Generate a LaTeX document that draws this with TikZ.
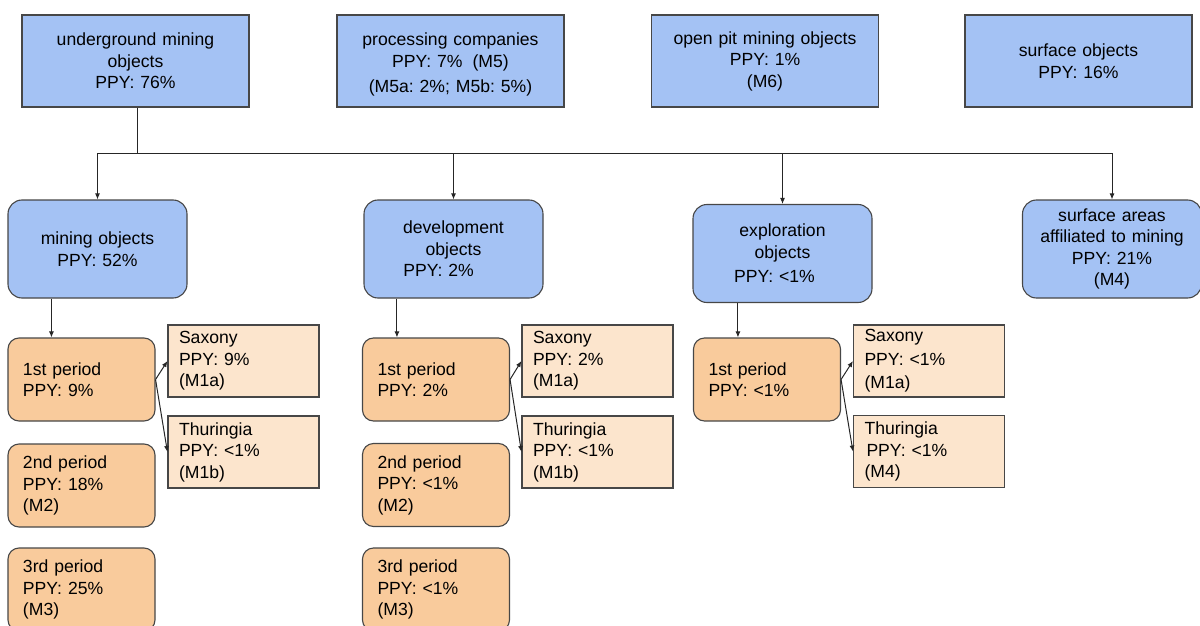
\documentclass[tikz,border=0pt]{standalone}
\usepackage{fontspec}
\setmainfont{Liberation Sans}
\usetikzlibrary{arrows.meta}
\definecolor{boxblue}{HTML}{A4C2F4}
\definecolor{boxorange}{HTML}{F9CB9C}
\definecolor{boxpeach}{HTML}{FCE5CD}
\definecolor{edgegray}{HTML}{474747}

\begin{document}
\begin{tikzpicture}[x=1pt,y=-1pt,
  every node/.style={font=\fontsize{17.6}{21.5}\selectfont\frenchspacing, inner ysep=0pt},
  base/.style={draw=edgegray, line width=1.1pt},
  topbox/.style={base, rectangle, fill=boxblue, minimum width=227pt, minimum height=92pt,
    inner xsep=5pt, text width=217pt, align=center},
  midbox/.style={base, rectangle, rounded corners=14pt, fill=boxblue, minimum width=179pt,
    minimum height=98pt, inner xsep=5pt, text width=169pt, align=center},
  period/.style={base, rectangle, rounded corners=11pt, fill=boxorange, minimum width=147pt,
    minimum height=83pt, inner xsep=15pt, text width=117pt, align=left},
  regionbox/.style={base, rectangle, fill=boxpeach, minimum width=151pt, minimum height=72pt,
    inner xsep=11pt, text width=129pt, align=left},
  link/.style={line width=1pt, draw=black!85},
  arr/.style={link, -{Latex[length=6pt,width=5pt]}}
]
\useasboundingbox (0,0) rectangle (1200,626);
\clip (0,0) rectangle (1200,626);

% top row
\node[topbox] (ug) at (135.5,61) {underground mining\\objects\\PPY: 76\%};
\node[topbox] (pc) at (450.5,61) {\rule{0pt}{20pt}processing companies\\PPY: 7\%\hspace{10pt}(M5)\\[4pt](M5a: 2\%; M5b: 5\%)};
\node[topbox] (op) at (765,61) {open pit mining objects\\PPY: 1\%\\(M6)};
\node[topbox] (so) at (1078.5,61) {surface objects\\PPY: 16\%};

% second row
\node[midbox] (mo) at (97.5,249) {mining objects\\PPY: 52\%};
\node[midbox] (dv) at (453.5,249) {development\\objects\\PPY: 2\%\rule{30pt}{0pt}};
\node[midbox] (ex) at (782.5,253.5) {exploration\\objects\\[3pt]PPY: <1\%\rule{16pt}{0pt}};
\node[midbox] (sa) at (1112,249) {surface areas\\affiliated to mining\\PPY: 21\%\\(M4)};

% mining objects branch
\node[period] (p1m) at (81.5,379.5) {1st period\\PPY: 9\%};
\node[period] (p2m) at (81.5,485.5) {2nd period\\PPY: 18\%\\(M2)};
\node[period] (p3m) at (81.5,589.5) {3rd period\\PPY: 25\%\\(M3)};
\node[regionbox] (sxm) at (243.5,361) {Saxony\\PPY: 9\%\\(M1a)};
\node[regionbox] (thm) at (243.5,452) {Thuringia\\PPY: <1\%\\(M1b)};

% development objects branch
\node[period] (p1d) at (436,379.5) {1st period\\PPY: 2\%};
\node[period] (p2d) at (436,485) {2nd period\\PPY: <1\%\\(M2)};
\node[period] (p3d) at (436,589.5) {3rd period\\PPY: <1\%\\(M3)};
\node[regionbox] (sxd) at (597.5,361) {Saxony\\PPY: 2\%\\(M1a)};
\node[regionbox] (thd) at (597.5,452) {Thuringia\\PPY: <1\%\\(M1b)};

% exploration objects branch
\node[period] (p1e) at (767,379.5) {1st period\\PPY: <1\%};
\node[regionbox] (sxe) at (929,361) {Saxony\\[2pt]PPY: <1\%\\[2pt](M1a)};
\node[regionbox] (the) at (929,451.5) {Thuringia\\\hspace*{2pt}PPY: <1\%\\(M4)};

% distribution bus below the underground mining box
\coordinate (bus) at (137,153);
\draw[link] (ug.south -| bus) -- (bus);
\draw[link] (mo.north |- bus) -- (sa.north |- bus);
\draw[arr] (mo.north |- bus) -- (mo.north);
\draw[arr] (dv.north |- bus) -- (dv.north);
\draw[arr] (ex.north |- bus) -- (ex.north);
\draw[arr] (sa.north |- bus) -- (sa.north);

% second row to first periods
\coordinate (km) at ([xshift=44pt]p1m.north west);
\coordinate (kd) at ([xshift=35pt]p1d.north west);
\coordinate (ke) at ([xshift=45pt]p1e.north west);
\draw[arr] (km |- mo.south) -- (km);
\draw[arr] (kd |- dv.south) -- (kd);
\draw[arr] (ke |- ex.south) -- (ke);

% first periods to regions
\draw[arr] (p1m.east) -- (sxm.west);
\draw[arr] (p1m.east) -- (thm.west);
\draw[arr] (p1d.east) -- (sxd.west);
\draw[arr] (p1d.east) -- (thd.west);
\draw[arr] (p1e.east) -- (sxe.west);
\draw[arr] (p1e.east) -- (the.west);
\end{tikzpicture}
\end{document}
